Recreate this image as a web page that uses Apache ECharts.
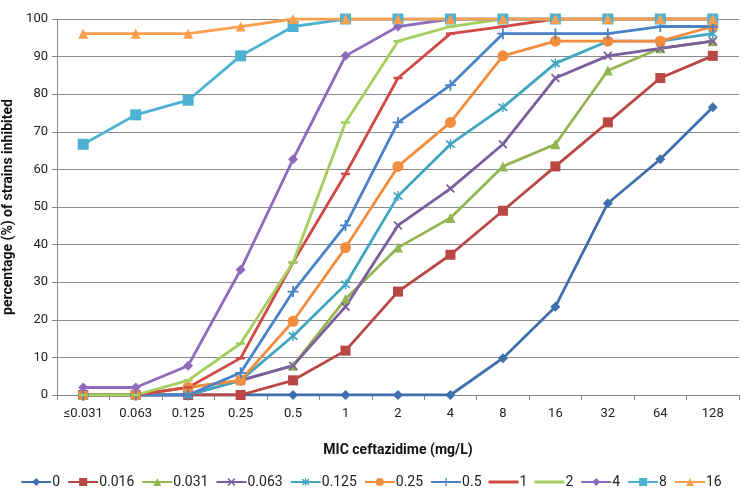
<!DOCTYPE html>
<html><head><meta charset="utf-8">
<script src="https://cdn.jsdelivr.net/npm/echarts@6/dist/echarts.min.js"></script>
<style>html,body{margin:0;padding:0;background:#fff}#c{width:742px;height:489px}</style>
</head><body><div id="c"></div>
<script>
const categories = ['≤0.031','0.063','0.125','0.25','0.5','1','2','4','8','16','32','64','128'];
const seriesNames = ['0','0.016','0.031','0.063','0.125','0.25','0.5','1','2','4','8','16'];
const s0     = [0,0,0,0,0,0,0,0,9.8,23.5,51,62.7,76.5];
const s0016  = [0,0,0,0,3.9,11.8,27.5,37.3,49,60.8,72.5,84.3,90.2];
const s0031  = [0,0,2,3.9,7.8,25.5,39.2,47.1,60.8,66.7,86.3,92.2,94.1];
const s0063  = [0,0,0,3.9,7.8,23.5,45.1,54.9,66.7,84.3,90.2,92.2,94.1];
const s0125  = [0,0,0,3.9,15.7,29.4,52.9,66.7,76.5,88.2,94.1,94.1,96.1];
const s025   = [0,0,2,3.9,19.6,39.2,60.8,72.5,90.2,94.1,94.1,94.1,98];
const s05    = [0,0,0,5.9,27.5,45.1,72.5,82.4,96.1,96.1,96.1,98,98];
const s1     = [0,0,2,9.8,35.3,58.8,84.3,96.1,98,100,100,100,100];
const s2     = [0,0,3.9,13.7,35.3,72.5,94.1,98,100,100,100,100,100];
const s4     = [2,2,7.8,33.3,62.7,90.2,98,100,100,100,100,100,100];
const s8     = [66.7,74.5,78.4,90.2,98,100,100,100,100,100,100,100,100];
const s16    = [96.1,96.1,96.1,98,100,100,100,100,100,100,100,100,100];
const allData = [s0,s0016,s0031,s0063,s0125,s025,s05,s1,s2,s4,s8,s16];
const yTicks = [0,10,20,30,40,50,60,70,80,90,100];

const colors = ['#3F6FAC','#B94744','#93B552','#7A5E9E','#43A6C0','#F38D3E','#4A82C8','#CF4A44','#A4CF5E','#8F6BBC','#4DB2D2','#F9A050'];
const X = 'path://M0,1.4L1.4,0L5,3.6L8.6,0L10,1.4L6.4,5L10,8.6L8.6,10L5,6.4L1.4,10L0,8.6L3.6,5Z';
const AST = 'path://M0,1.4L1.4,0L5,3.6L8.6,0L10,1.4L6.4,5L10,8.6L8.6,10L5,6.4L1.4,10L0,8.6L3.6,5Z M4.3,-1H5.7V11H4.3Z';
const PLUS = 'path://M4.2,0H5.8V4.2H10V5.8H5.8V10H4.2V5.8H0V4.2H4.2Z';
const DASH = 'path://M0,0H10V2.4H0Z';
const LINEICON = 'path://M0,0H30V3H0Z';
const symbols = ['diamond','rect','triangle',X,AST,'circle',PLUS,DASH,DASH,'diamond','rect','triangle'];
const sizes = [10,10,10,9,10,11,11,[9,2.5],[9,2.5],10,11,10];

const chart = echarts.init(document.getElementById('c'));
chart.setOption({
  animation:false,
  color: colors,
  textStyle:{fontFamily:'Roboto, sans-serif'},
  grid:{left:57,right:3,top:19,bottom:94,containLabel:false,outerBoundsMode:'none'},
  legend:{
    top:470, left:'center', itemGap:7, itemWidth:30, itemHeight:10,
    textStyle:{fontSize:14,color:'#222', padding:[0,0,0,-4]},
    data: seriesNames.map((n,i)=> (i===7||i===8) ? {name:n, icon:LINEICON} : {name:n})
  },
  xAxis:{
    type:'category', data:categories, boundaryGap:true,
    name:'MIC ceftazidime (mg/L)', nameLocation:'middle', nameGap:48,
    nameTextStyle:{fontWeight:'bold',fontSize:14,color:'#111'},
    axisLine:{lineStyle:{color:'#888',width:1}},
    axisTick:{show:true,length:5,lineStyle:{color:'#888'}},
    axisLabel:{color:'#222',fontSize:13,margin:12,interval:0}
  },
  yAxis:{
    type:'value', min:0, max:100, interval:10,
    name:'percentage (%) of strains inhibited', nameLocation:'middle', nameGap:39,
    nameTextStyle:{fontWeight:'bold',fontSize:14,color:'#111'},
    axisLine:{show:true,lineStyle:{color:'#888'}},
    axisTick:{show:true,length:5,lineStyle:{color:'#888'}},
    axisLabel:{color:'#222',fontSize:13,margin:9,formatter:v=>yTicks.includes(v)?String(v):''},
    splitLine:{lineStyle:{color:'#8c8c8c',width:1}}
  },
  series: seriesNames.map((n,i)=>({
    name:n, type:'line', data:allData[i],
    symbol:symbols[i], symbolSize:sizes[i], showAllSymbol:true,
    lineStyle:{width:2.8,color:colors[i]},
    itemStyle:{color:colors[i],borderWidth:0},
    emphasis:{disabled:true}
  }))
});
</script></body></html>
